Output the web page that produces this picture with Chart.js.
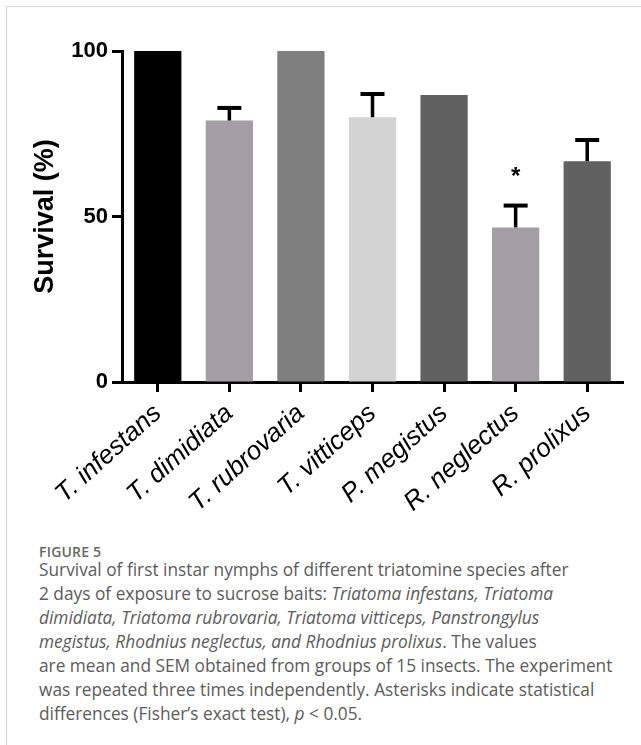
<!DOCTYPE html>
<html>
<head>
<meta charset="utf-8">
<script src="https://cdn.jsdelivr.net/npm/chart.js@4.4.1/dist/chart.umd.min.js"></script>
<style>
  html, body { margin: 0; padding: 0; background: #fff; }
  body { width: 641px; height: 745px; position: relative; overflow: hidden; }
  .frame { position: absolute; left: 6px; top: 6px; right: -2px; bottom: -2px; border-left: 1px solid #d4d4d4; border-top: 1px solid #d4d4d4; }
  #chartBox { position: absolute; left: 0; top: 0; width: 641px; height: 540px; }
  .caption { position: absolute; left: 39px; top: 540px; font-family: "Open Sans", sans-serif; color: #5b5b5b; }
  .fig { font-size: 14px; font-weight: 600; color: #666; letter-spacing: 0.2px; line-height: 24px; height: 18px; }
  .text { font-size: 17.3px; line-height: 24px; white-space: nowrap; }
</style>
</head>
<body>
<div class="frame"></div>
<div id="chartBox"><canvas id="survivalChart" width="641" height="540"></canvas></div>
<div class="caption">
  <div class="fig">FIGURE 5</div>
  <div class="text">Survival of first instar nymphs of different triatomine species after<br>2 days of exposure to sucrose baits: <i>Triatoma infestans, Triatoma</i><br><i>dimidiata, Triatoma rubrovaria, Triatoma vitticeps, Panstrongylus</i><br><i>megistus, Rhodnius neglectus, and Rhodnius prolixus</i>. The values<br>are mean and SEM obtained from groups of 15 insects. The experiment<br>was repeated three times independently. Asterisks indicate statistical<br>differences (Fisher’s exact test), <i>p</i> &lt; 0.05.</div>
</div>
<script>
// species on the x axis
const species = ["T. infestans", "T. dimidiata", "T. rubrovaria", "T. vitticeps", "P. megistus", "R. neglectus", "R. prolixus"];
// mean survival (%) and SEM
const survival = [100, 79, 100, 80, 86.7, 46.7, 66.7];
const sem = [0, 3.8, 0, 7, 0, 6.6, 6.4];
const significant = [false, false, false, false, false, true, false];
const barColors = ["#000000", "#a39ea4", "#7f7f7f", "#d3d3d3", "#616161", "#a39ea4", "#616161"];
const yTicks = [0, 50, 100];

// draws upper SEM whiskers and the asterisks
const errorBars = {
    id: "errorBars",
    afterDatasetsDraw(chart) {
        const { ctx, scales: { x, y } } = chart;
        ctx.save();
        ctx.strokeStyle = "#000";
        ctx.fillStyle = "#000";
        survival.forEach((v, i) => {
            const cx = x.getPixelForValue(i);
            const yTop = y.getPixelForValue(v + sem[i]);
            if (sem[i] > 0) {
                ctx.lineWidth = 3.5;
                ctx.beginPath();
                ctx.moveTo(cx, y.getPixelForValue(v));
                ctx.lineTo(cx, yTop);
                ctx.stroke();
                ctx.lineWidth = 4;
                ctx.beginPath();
                ctx.moveTo(cx - 12, yTop);
                ctx.lineTo(cx + 12, yTop);
                ctx.stroke();
            }
            if (significant[i]) {
                ctx.font = "bold 24px 'Liberation Sans', Arial, sans-serif";
                ctx.textAlign = "center";
                ctx.textBaseline = "alphabetic";
                ctx.fillText("*", cx, yTop - 22);
            }
        });
        ctx.restore();
    }
};

new Chart(document.getElementById("survivalChart"), {
    type: "bar",
    data: {
        labels: species,
        datasets: [{
            data: survival,
            backgroundColor: barColors,
            borderWidth: 0,
            barPercentage: 0.66,
            categoryPercentage: 1
        }]
    },
    options: {
        responsive: false,
        animation: false,
        layout: { padding: { left: 0, right: 18, top: 51, bottom: 0 } },
        plugins: { legend: { display: false }, tooltip: { enabled: false } },
        scales: {
            y: {
                min: 0,
                max: 100,
                afterBuildTicks: s => { s.ticks = yTicks.map(v => ({ value: v })); },
                afterFit: s => { s.width = 122; },
                border: { display: true, color: "#000", width: 3 },
                grid: { display: true, drawOnChartArea: false, drawTicks: true, tickLength: 10, tickWidth: 3, tickColor: "#000" },
                ticks: { color: "#000", padding: 4, font: { family: "'Liberation Sans', Arial, sans-serif", size: 22, weight: "bold" } },
                title: {
                    display: true,
                    text: "Survival (%)",
                    color: "#000",
                    padding: { top: 29, bottom: 0 },
                    font: { family: "'Liberation Sans', Arial, sans-serif", size: 27, weight: "bold" }
                }
            },
            x: {
                offset: true,
                afterFit: s => { s.height = 158; },
                border: { display: true, color: "#000", width: 3 },
                grid: { display: true, offset: false, drawOnChartArea: false, drawTicks: true, tickLength: 10, tickWidth: 3, tickColor: "#000" },
                ticks: {
                    color: "#000",
                    autoSkip: false,
                    maxRotation: 42,
                    minRotation: 42,
                    padding: 6,
                    font: { family: "'Liberation Sans', Arial, sans-serif", size: 26, style: "italic" }
                }
            }
        }
    },
    plugins: [errorBars]
});
</script>
</body>
</html>
